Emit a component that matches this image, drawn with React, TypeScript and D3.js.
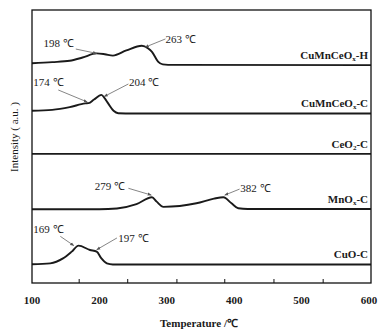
import React from "react";
import * as d3 from "d3";

// Temperature (°C) vs intensity (a.u., stacked offsets)
const cuMnCeOxH: [number, number][] = [
  [100, 80.5], [130, 80.9], [156, 81.4], [175, 82.6], [196, 84.1], [208, 83.8], [220, 83.3],
  [240, 85.2], [263, 86.9], [272, 86.0], [278, 84.7], [287, 81.1], [294, 80.1], [310, 79.9], [610, 79.8],
];
const cuMnCeOxC: [number, number][] = [
  [100, 63.1], [130, 63.4], [156, 64.4], [179, 65.8], [184, 65.9], [192, 67.2], [203, 68.9],
  [208, 67.6], [213, 65.8], [221, 63.1], [228, 62.2], [250, 62.1], [610, 62.1],
];
const ceO2C: [number, number][] = [[100, 47.3], [610, 47.3]];
const mnOxC: [number, number][] = [
  [100, 27.0], [200, 27.0], [226, 27.3], [255, 28.9], [278, 31.4], [285, 29.8], [295, 27.9],
  [344, 29.2], [370, 30.9], [384, 31.4], [396, 29.2], [406, 27.4], [420, 27.1], [610, 27.1],
];
const cuOC: [number, number][] = [
  [100, 6.85], [127, 7.2], [146, 9.0], [159, 11.5], [169, 13.7], [186, 12.1], [196, 11.5],
  [203, 9.0], [211, 7.2], [220, 6.8], [610, 6.8],
];

const seriesNames = ["CuMnCeO_x-H", "CuMnCeO_x-C", "CeO_2-C", "MnO_x-C", "CuO-C"];
const seriesData = [cuMnCeOxH, cuMnCeOxC, ceO2C, mnOxC, cuOC];
const seriesLabelLevel = [79.8, 62.1, 47.3, 27.1, 6.8];

// annotations: text, arrow tip (temperature, intensity), text position, arrow start
const annTexts = ["198 ℃", "263 ℃", "174 ℃", "204 ℃", "279 ℃", "382 ℃", "169 ℃", "197 ℃"];
const annTips: [number, number][] = [
  [196, 84.1], [268, 86.4], [182, 66.3], [207, 68.3], [277, 32.2], [386, 32.2], [162, 13.7], [196, 12.2],
];
const annTextPos: [number, number][] = [
  [117, 86.4], [298, 87.9], [102, 72.0], [244, 72.0], [193, 34.1], [409, 33.3], [102, 18.2], [228, 15.0],
];
const annArrowFrom: [number, number][] = [
  [165, 85.7], [298, 89.4], [139, 70.7], [243, 72.9], [243, 34.7], [408, 34.4], [142, 17.1], [226, 16.5],
];

const xTickLabels = [100, 200, 300, 400, 500, 600];
const xTickMarks = [170, 242, 315, 386, 459, 532];

const W = 388;
const H = 334;
const left = 32, right = 369, top = 10, bottom = 283;

function Label({ name, x, y }: { name: string; x: number; y: number }) {
  const parts = name.split("_");
  if (parts.length === 1)
    return (
      <text x={x} y={y} textAnchor="end">{name}</text>
    );
  const sub = parts[1].charAt(0);
  const rest = parts[1].slice(1);
  return (
    <text x={x} y={y} textAnchor="end">
      {parts[0]}
      <tspan fontSize={7} dy={2}>{sub}</tspan>
      <tspan dy={-2}>{rest}</tspan>
    </text>
  );
}

export default function App() {
  const x = d3.scaleLinear().domain([100, 600]).range([left, right]);
  const y = d3.scaleLinear().domain([0, 100]).range([bottom, top]);
  const line = d3
    .line<[number, number]>()
    .x((d) => x(d[0]))
    .y((d) => y(d[1]))
    .curve(d3.curveMonotoneX);

  return (
    <svg width={W} height={H} style={{ position: "absolute", left: 0, top: 0 }} fontFamily="'Liberation Serif', 'Times New Roman', serif">
      <defs>
        <clipPath id="plotclip">
          <rect x={left} y={top} width={right + 2 - left} height={bottom - top} />
        </clipPath>
        <marker id="ah" viewBox="0 0 10 10" refX="9" refY="5" markerWidth="5" markerHeight="5" orient="auto">
          <path d="M0,1 L10,5 L0,9 z" fill="#555" />
        </marker>
      </defs>
      <rect x={0} y={0} width={W} height={H} fill="#fff" />
      <g clipPath="url(#plotclip)">
        {seriesData.map((s, i) => (
          <path key={i} d={line(s) || ""} fill="none" stroke="#1a1a1a" strokeWidth={1.9} />
        ))}
      </g>
      <rect x={left} y={top} width={right + 2 - left} height={bottom - top} fill="none" stroke="#111" strokeWidth={1.3} />
      {xTickMarks.map((t) => (
        <line key={t} x1={x(t)} x2={x(t)} y1={bottom} y2={bottom - 4} stroke="#111" strokeWidth={1} />
      ))}
      <g fontWeight="bold" fontSize={11} fill="#1a1a1a">
        {xTickLabels.map((t) => (
          <text key={t} x={x(t)} y={304} textAnchor="middle">{t}</text>
        ))}
        <text x={199} y={327} textAnchor="middle">Temperature /℃</text>
        {seriesNames.map((n, i) => (
          <Label key={n} name={n} x={right - 1} y={y(seriesLabelLevel[i]) - 6} />
        ))}
      </g>
      <text transform={`translate(18,137) rotate(-90)`} textAnchor="middle" fontSize={11} fill="#1a1a1a">
        Intensity ( a.u. )
      </text>
      <g fontSize={11} fill="#1a1a1a">
        {annTexts.map((t, i) => (
          <g key={t}>
            <line
              x1={x(annArrowFrom[i][0])}
              y1={y(annArrowFrom[i][1])}
              x2={x(annTips[i][0])}
              y2={y(annTips[i][1])}
              stroke="#666"
              strokeWidth={0.8}
              markerEnd="url(#ah)"
            />
            <text x={x(annTextPos[i][0])} y={y(annTextPos[i][1])}>
              {t}
            </text>
          </g>
        ))}
      </g>
    </svg>
  );
}
